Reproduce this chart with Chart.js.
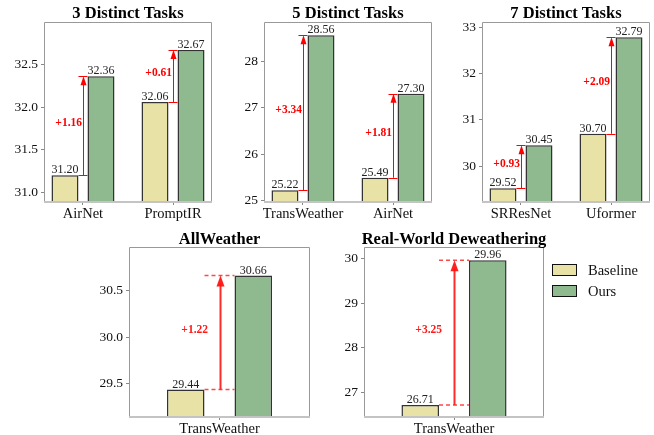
<!DOCTYPE html>
<html><head><meta charset="utf-8">
<script src="https://cdn.jsdelivr.net/npm/chart.js@4.4.0/dist/chart.umd.min.js"></script>
<style>
html,body{margin:0;padding:0;background:#fff;}
#wrap{position:relative;width:654px;height:435px;overflow:hidden;background:#fff;}
.cv{position:absolute;left:0;top:0;width:654px;height:435px;}
.legtxt{position:absolute;font-family:'Liberation Serif','Times New Roman',serif;font-size:14.5px;color:#111;line-height:16px;}
.box{position:absolute;width:25px;height:12px;border:1.5px solid #111;box-sizing:border-box;}
</style></head><body>
<div id="wrap">
  <div class="cv"><canvas id="c1"></canvas></div>
  <div class="cv"><canvas id="c2"></canvas></div>
  <div class="cv"><canvas id="c3"></canvas></div>
  <div class="cv"><canvas id="c4"></canvas></div>
  <div class="cv"><canvas id="c5"></canvas></div>
  <div class="box" style="left:552px;top:264px;background:#E8E2A6;"></div>
  <div class="legtxt" style="left:588px;top:262px;">Baseline</div>
  <div class="box" style="left:552px;top:285px;background:#8FBA8F;"></div>
  <div class="legtxt" style="left:588px;top:283px;">Ours</div>
</div>
<script>
// ---- data ----
const titles = ['3 Distinct Tasks', '5 Distinct Tasks', '7 Distinct Tasks', 'AllWeather', 'Real-World Deweathering'];
const seriesNames = ['Baseline', 'Ours'];

const cats3 = ['AirNet', 'PromptIR'];
const base3 = [31.20, 32.06];
const ours3 = [32.36, 32.67];
const yTicks3 = [31.0, 31.5, 32.0, 32.5];

const cats5 = ['TransWeather', 'AirNet'];
const base5 = [25.22, 25.49];
const ours5 = [28.56, 27.30];
const yTicks5 = [25, 26, 27, 28];

const cats7 = ['SRResNet', 'Uformer'];
const base7 = [29.52, 30.70];
const ours7 = [30.45, 32.79];
const yTicks7 = [30, 31, 32, 33];

const catsAW = ['TransWeather'];
const baseAW = [29.44];
const oursAW = [30.66];
const yTicksAW = [29.5, 30.0, 30.5];

const catsRW = ['TransWeather'];
const baseRW = [26.71];
const oursRW = [29.96];
const yTicksRW = [27, 28, 29, 30];

// ---- style / layout ----
const FONT = "'Liberation Serif','Times New Roman',serif";
const COL_BASE = '#E8E2A6', COL_OURS = '#8FBA8F', EDGE = '#333333';
Chart.defaults.font.family = FONT;
Chart.defaults.animation = false;

const panels = [
  {id:'c1', title:titles[0], cats:cats3, base:base3, ours:ours3, yt:yTicks3, dec:1, area:[44,22,212,202], xr:[-0.433,1.433], bp:0.75, style:'A', titleOff:4},
  {id:'c2', title:titles[1], cats:cats5, base:base5, ours:ours5, yt:yTicks5, dec:0, area:[264,22,432,202], xr:[-0.433,1.433], bp:0.75, style:'A', titleOff:4},
  {id:'c3', title:titles[2], cats:cats7, base:base7, ours:ours7, yt:yTicks7, dec:0, area:[482,22,650,202], xr:[-0.433,1.433], bp:0.75, style:'A', titleOff:4},
  {id:'c4', title:titles[3], cats:catsAW, base:baseAW, ours:oursAW, yt:yTicksAW, dec:1, area:[129,247,310,417], xr:[-0.536,0.536], bp:0.556, style:'B', titleOff:3},
  {id:'c5', title:titles[4], cats:catsRW, base:baseRW, ours:oursRW, yt:yTicksRW, dec:0, area:[364,247,544,417], xr:[-0.533,0.533], bp:0.556, style:'B', titleOff:3},
];

const W = 654, H = 435, YW = 40, XH = 25, OFF = 0.2;

function makePlugin(p) {
  return {
    id: 'annot_' + p.id,
    afterDatasetsDraw(chart) {
      const ctx = chart.ctx, a = chart.chartArea, xs = chart.scales.x;
      ctx.save();
      // frame
      ctx.strokeStyle = '#999'; ctx.lineWidth = 1;
      ctx.beginPath();
      ctx.moveTo(a.left + 0.5, a.bottom); ctx.lineTo(a.left + 0.5, a.top + 0.5);
      ctx.lineTo(a.right - 0.5, a.top + 0.5); ctx.lineTo(a.right - 0.5, a.bottom);
      ctx.stroke();
      ctx.strokeStyle = '#c4c4c4'; ctx.lineWidth = 2;
      ctx.beginPath(); ctx.moveTo(a.left, a.bottom); ctx.lineTo(a.right, a.bottom); ctx.stroke();
      // value labels
      ctx.fillStyle = '#222'; ctx.font = '12px ' + FONT;
      ctx.textAlign = 'center'; ctx.textBaseline = 'alphabetic';
      chart.data.datasets.forEach((ds, di) => {
        chart.getDatasetMeta(di).data.forEach((bar, i) => {
          ctx.fillText(ds.data[i].y.toFixed(2), bar.x, bar.y - 2);
        });
      });
      // gain annotations
      const mb = chart.getDatasetMeta(0).data, mo = chart.getDatasetMeta(1).data;
      p.cats.forEach((c, i) => {
        const b = mb[i], o = mo[i];
        const xc = Math.round(xs.getPixelForValue(i)) + 0.5;
        const yb = b.y, yo = o.y;
        const x0 = b.x + b.width / 2, x1 = o.x - o.width / 2;
        const gain = '+' + (p.ours[i] - p.base[i]).toFixed(2);
        if (p.style === 'A') {
          ctx.strokeStyle = '#ff0000'; ctx.lineWidth = 1; ctx.setLineDash([]);
          ctx.beginPath();
          ctx.moveTo(x0, Math.round(yb) + 0.5); ctx.lineTo(x1, Math.round(yb) + 0.5);
          ctx.moveTo(x0, Math.round(yo) + 0.5); ctx.lineTo(x1, Math.round(yo) + 0.5);
          ctx.moveTo(xc, yb); ctx.lineTo(xc, yo + 6);
          ctx.stroke();
          ctx.fillStyle = '#ff0000';
          ctx.beginPath(); ctx.moveTo(xc, yo); ctx.lineTo(xc - 3, yo + 9); ctx.lineTo(xc + 3, yo + 9); ctx.closePath(); ctx.fill();
          ctx.font = 'bold 11.5px ' + FONT; ctx.textAlign = 'right'; ctx.textBaseline = 'middle';
          ctx.fillText(gain, xc - 1.5, (yb + yo) / 2 - 3);
        } else {
          ctx.strokeStyle = 'rgba(255,40,40,0.85)'; ctx.lineWidth = 1.5; ctx.setLineDash([4, 3]);
          ctx.beginPath();
          ctx.moveTo(x0, yb); ctx.lineTo(x1, yb);
          ctx.moveTo(x0, yo); ctx.lineTo(x1, yo);
          ctx.stroke();
          ctx.setLineDash([]);
          ctx.strokeStyle = 'rgba(255,20,20,0.9)'; ctx.lineWidth = 2;
          ctx.beginPath(); ctx.moveTo(xc, yb); ctx.lineTo(xc, yo + 8); ctx.stroke();
          ctx.fillStyle = 'rgba(255,20,20,0.95)';
          ctx.beginPath(); ctx.moveTo(xc, yo); ctx.lineTo(xc - 4, yo + 11); ctx.lineTo(xc + 4, yo + 11); ctx.closePath(); ctx.fill();
          ctx.fillStyle = '#ff1a1a';
          ctx.font = 'bold 11.5px ' + FONT; ctx.textAlign = 'right'; ctx.textBaseline = 'middle';
          ctx.fillText(gain, xc - 12.5, (yb + yo) / 2 - 3);
        }
      });
      // title
      ctx.fillStyle = '#000'; ctx.font = 'bold 16.5px ' + FONT;
      ctx.textAlign = 'center'; ctx.textBaseline = 'alphabetic';
      ctx.fillText(p.title, (a.left + a.right) / 2, a.top - p.titleOff);
      ctx.restore();
    }
  };
}

panels.forEach(p => {
  const [L, T, R, B] = p.area;
  const ymin = Math.min(...p.base) * 0.99, ymax = Math.max(...p.ours) * 1.01;
  const zeroPad = s => { s.paddingTop = 0; s.paddingBottom = 0; s.paddingLeft = 0; s.paddingRight = 0; };
  new Chart(document.getElementById(p.id), {
    type: 'bar',
    data: {
      datasets: [
        {label: seriesNames[0], data: p.base.map((v, i) => ({x: i - OFF, y: v})), backgroundColor: COL_BASE, borderColor: EDGE, borderWidth: 1.5},
        {label: seriesNames[1], data: p.ours.map((v, i) => ({x: i + OFF, y: v})), backgroundColor: COL_OURS, borderColor: EDGE, borderWidth: 1.5}
      ]
    },
    options: {
      responsive: true, maintainAspectRatio: false, devicePixelRatio: 1,
      events: [],
      layout: {padding: {left: L - YW, top: T, right: W - R, bottom: H - B - XH}},
      datasets: {bar: {grouped: false, categoryPercentage: 1, barPercentage: p.bp}},
      plugins: {legend: {display: false}, title: {display: false}, tooltip: {enabled: false}},
      scales: {
        x: {
          type: 'linear', min: p.xr[0], max: p.xr[1], offset: false,
          afterBuildTicks: s => { s.ticks = p.cats.map((c, i) => ({value: i})); },
          afterFit: s => { s.height = XH; zeroPad(s); },
          ticks: {callback: v => p.cats[v] ?? '', font: {size: 14.5}, color: '#111', padding: 0, maxRotation: 0, autoSkip: false},
          grid: {display: true, offset: false, drawOnChartArea: false, drawTicks: true, tickLength: 3, color: '#888'},
          border: {display: false}
        },
        y: {
          type: 'linear', min: ymin, max: ymax,
          afterBuildTicks: s => { s.ticks = p.yt.map(v => ({value: v})); },
          afterFit: s => { s.width = YW; zeroPad(s); },
          ticks: {callback: v => Number(v).toFixed(p.dec), font: {size: 13.5}, color: '#111', padding: 3},
          grid: {display: true, offset: false, drawOnChartArea: false, drawTicks: true, tickLength: 3, color: '#888'},
          border: {display: false}
        }
      }
    },
    plugins: [makePlugin(p)]
  });
});
</script>
</body></html>
